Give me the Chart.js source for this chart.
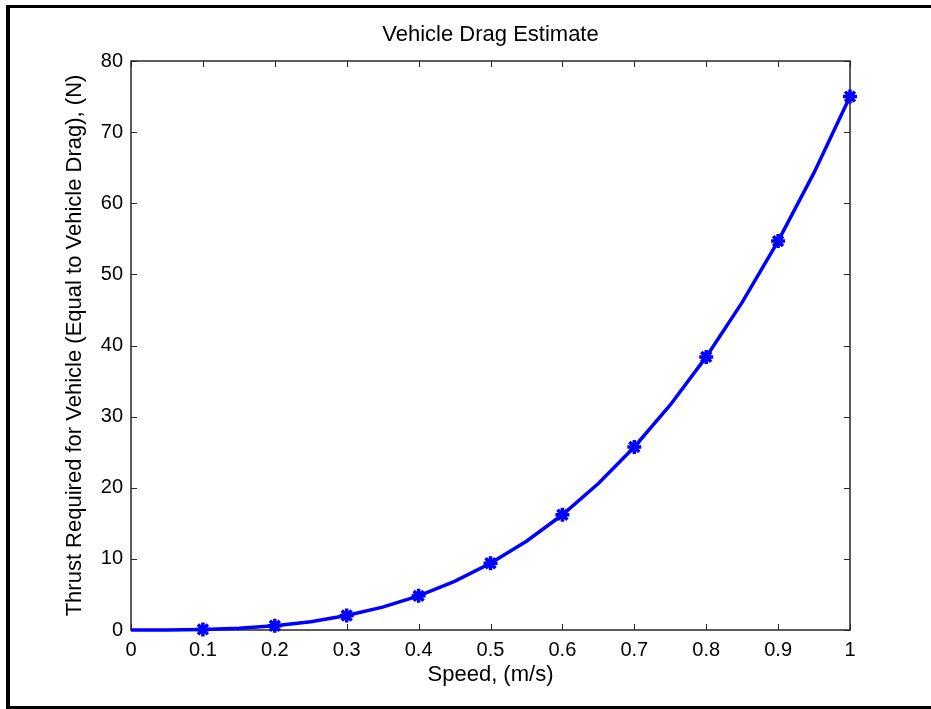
<!DOCTYPE html>
<html>
<head>
<meta charset="utf-8">
<script src="https://cdn.jsdelivr.net/npm/chart.js@4.4.1/dist/chart.umd.min.js"></script>
<style>
  html, body { margin: 0; padding: 0; background: #fff; }
  #wrap { position: relative; width: 931px; height: 709px; }
  #frame {
    position: absolute; left: 6px; top: 5px; right: -10px; bottom: 0;
    border-left: 4px solid #000; border-top: 3px solid #000; border-bottom: 3px solid #000;
    pointer-events: none;
  }
</style>
</head>
<body>
<div id="wrap">
  <canvas id="myChart" width="931" height="709"></canvas>
  <div id="frame"></div>
</div>
<script>
// curve sampled every 0.05 m/s
const speedLine = [0, 0.05, 0.1, 0.15, 0.2, 0.25, 0.3, 0.35, 0.4, 0.45, 0.5,
                   0.55, 0.6, 0.65, 0.7, 0.75, 0.8, 0.85, 0.9, 0.95, 1.0];
const thrustLine = [0, 0.01, 0.08, 0.25, 0.6, 1.17, 2.03, 3.22, 4.8, 6.83, 9.38,
                    12.48, 16.2, 20.6, 25.73, 31.64, 38.4, 46.06, 54.68, 64.3, 75.0];
// '*' markers every 0.1 m/s
const speedMarks = [0.1, 0.2, 0.3, 0.4, 0.5, 0.6, 0.7, 0.8, 0.9, 1.0];
const thrustMarks = [0.08, 0.6, 2.03, 4.8, 9.38, 16.2, 25.73, 38.4, 54.68, 75.0];

const xTicks = [0, 0.1, 0.2, 0.3, 0.4, 0.5, 0.6, 0.7, 0.8, 0.9, 1];
const yTicks = [0, 10, 20, 30, 40, 50, 60, 70, 80];

const FONT = "'Liberation Sans', Arial, Helvetica, sans-serif";
const AXIS = '#262626';

// MATLAB-style box with inward ticks on all four sides, title over the axes
const boxTicks = {
  id: 'boxTicks',
  beforeDatasetsDraw(chart) {
    const { ctx, chartArea: a, scales: { x, y } } = chart;
    const len = 6;
    ctx.save();
    ctx.strokeStyle = AXIS;
    ctx.lineWidth = 1.5;
    ctx.strokeRect(a.left, a.top, a.right - a.left, a.bottom - a.top);
    ctx.lineWidth = 1;
    ctx.beginPath();
    xTicks.forEach(v => {
      const px = Math.round(x.getPixelForValue(v)) + 0.5;
      ctx.moveTo(px, a.bottom); ctx.lineTo(px, a.bottom - len);
      ctx.moveTo(px, a.top); ctx.lineTo(px, a.top + len);
    });
    yTicks.forEach(v => {
      const py = Math.round(y.getPixelForValue(v)) + 0.5;
      ctx.moveTo(a.left, py); ctx.lineTo(a.left + len, py);
      ctx.moveTo(a.right, py); ctx.lineTo(a.right - len, py);
    });
    ctx.stroke();

    ctx.fillStyle = '#000';
    ctx.font = '22px ' + FONT;
    ctx.textAlign = 'center';
    ctx.textBaseline = 'middle';
    ctx.fillText('Vehicle Drag Estimate', (a.left + a.right) / 2, 35);
    ctx.restore();
  }
};

const ctx = document.getElementById('myChart').getContext('2d');

new Chart(ctx, {
  type: 'scatter',
  data: {
    datasets: [{
      label: 'Drag',
      data: speedLine.map((s, i) => ({ x: s, y: thrustLine[i] })),
      showLine: true,
      borderColor: '#0000ff',
      borderWidth: 3.5,
      pointRadius: 0,
      tension: 0,
      clip: false
    }, {
      label: 'Samples',
      data: speedMarks.map((s, i) => ({ x: s, y: thrustMarks[i] })),
      showLine: false,
      pointStyle: 'star',
      pointRadius: 7,
      borderWidth: 3.5,
      borderColor: '#0000ff',
      backgroundColor: '#0000ff',
      clip: false
    }]
  },
  options: {
    responsive: false,
    animation: false,
    layout: { padding: { left: 50, right: 81, top: 61, bottom: 0 } },
    plugins: {
      legend: { display: false },
      tooltip: { enabled: false },
      title: { display: false }
    },
    scales: {
      x: {
        type: 'linear',
        min: 0, max: 1,
        afterBuildTicks: s => { s.ticks = xTicks.map(v => ({ value: v })); },
        afterFit: s => { s.height = 79; },
        grid: { display: false, drawTicks: false },
        border: { display: false },
        ticks: { color: '#000', padding: 8, font: { family: FONT, size: 20 },
                 callback: v => String(v) },
        title: {
          display: true, text: 'Speed, (m/s)', color: '#000',
          font: { family: FONT, size: 22, lineHeight: 1.2 },
          padding: { top: 0, bottom: 21 }
        }
      },
      y: {
        type: 'linear',
        min: 0, max: 80,
        afterBuildTicks: s => { s.ticks = yTicks.map(v => ({ value: v })); },
        afterFit: s => { s.width = 81; },
        grid: { display: false, drawTicks: false },
        border: { display: false },
        ticks: { color: '#000', padding: 8, font: { family: FONT, size: 20 } },
        title: {
          display: true, text: 'Thrust Required for Vehicle (Equal to Vehicle Drag), (N)',
          color: '#000',
          font: { family: FONT, size: 22, lineHeight: 1.2 },
          padding: { top: 12, bottom: 0 }
        }
      }
    }
  },
  plugins: [boxTicks]
});
</script>
</body>
</html>
